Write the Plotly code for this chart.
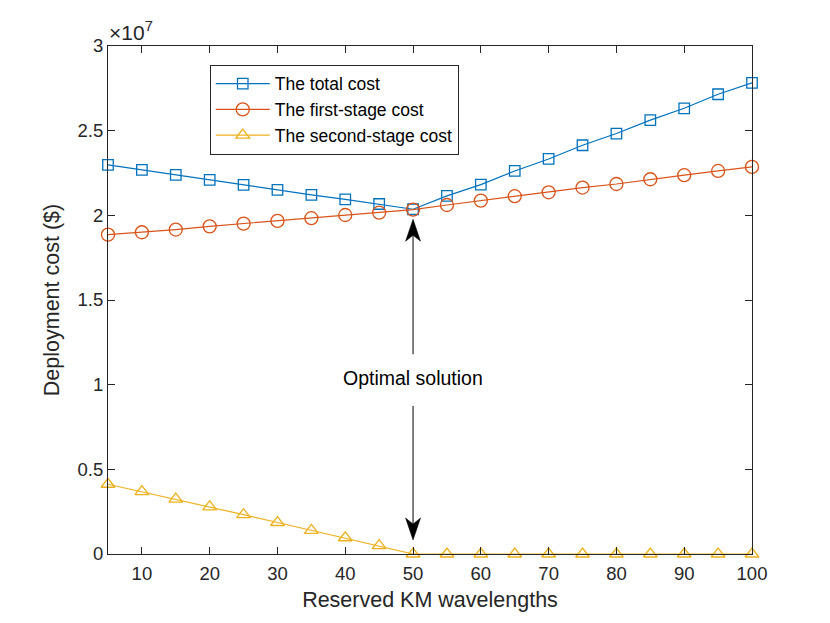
import numpy as np
import plotly.graph_objects as go

# --------------------------
# DATA (values in 1e7 $)
# --------------------------
wavelengths = [5, 10, 15, 20, 25, 30, 35, 40, 45, 50,
               55, 60, 65, 70, 75, 80, 85, 90, 95, 100]
total_cost = [2.298, 2.268, 2.239, 2.209, 2.180, 2.150, 2.121, 2.094, 2.067, 2.036,
              2.115, 2.181, 2.262, 2.333, 2.414, 2.483, 2.562, 2.632, 2.715, 2.782]
first_stage = [1.886, 1.900, 1.916, 1.935, 1.951, 1.967, 1.983, 2.002, 2.016, 2.034,
               2.061, 2.087, 2.113, 2.136, 2.164, 2.185, 2.213, 2.237, 2.262, 2.286]
second_stage = [0.412, 0.368, 0.324, 0.278, 0.232, 0.186, 0.140, 0.096, 0.050, 0.0,
                0.0, 0.0, 0.0, 0.0, 0.0, 0.0, 0.0, 0.0, 0.0, 0.0]

x_ticks = [10, 20, 30, 40, 50, 60, 70, 80, 90, 100]
y_ticks = [0, 0.5, 1, 1.5, 2, 2.5, 3]
y_tick_text = ["0", "0.5", "1", "1.5", "2", "2.5", "3"]

scale = 1e7
total = np.array(total_cost) * scale
first = np.array(first_stage) * scale
second = np.array(second_stage) * scale

FONT = "Liberation Sans, Arial, Helvetica, sans-serif"
AX = "#262626"

# --------------------------
# TRACES
# --------------------------
fig = go.Figure()
series = [
    ("The total cost", total, "#0072BD", "square-open", 10.5),
    ("The first-stage cost", first, "#D95319", "circle-open", 13),
    ("The second-stage cost", second, "#EDB120", "triangle-up-open", 12),
]
for name, vals, color, symbol, size in series:
    fig.add_trace(go.Scatter(
        x=wavelengths, y=vals, name=name, mode="lines+markers",
        line=dict(color=color, width=1.2),
        marker=dict(symbol=symbol, size=size, color=color, line=dict(color=color, width=1.3)),
        cliponaxis=False,
    ))

# --------------------------
# OPTIMAL SOLUTION ARROWS
# --------------------------
i_opt = int(np.argmin(total))
opt_x = wavelengths[i_opt]
opt_y = total[i_opt]
low_y = second[i_opt]

shapes = [
    # upper arrow: shaft + head (pixel offsets from the optimum point)
    dict(type="line", xref="x", yref="y", xsizemode="pixel", ysizemode="pixel",
         xanchor=opt_x, yanchor=opt_y, x0=0, x1=0, y0=-20, y1=-145,
         line=dict(color="black", width=1)),
    dict(type="path", xref="x", yref="y", xsizemode="pixel", ysizemode="pixel",
         xanchor=opt_x, yanchor=opt_y,
         path="M0,-10 L7.5,-32 L0,-26 L-7.5,-32 Z",
         fillcolor="black", line=dict(color="black", width=0.5)),
    # lower arrow
    dict(type="line", xref="x", yref="y", xsizemode="pixel", ysizemode="pixel",
         xanchor=opt_x, yanchor=low_y, x0=0, x1=0, y0=24, y1=148,
         line=dict(color="black", width=1)),
    dict(type="path", xref="x", yref="y", xsizemode="pixel", ysizemode="pixel",
         xanchor=opt_x, yanchor=low_y,
         path="M0,14 L7.5,36 L0,30 L-7.5,36 Z",
         fillcolor="black", line=dict(color="black", width=0.5)),
]

annotations = [
    dict(x=opt_x, y=1.04e7, xref="x", yref="y", text="Optimal solution",
         showarrow=False, font=dict(family=FONT, size=19.5, color="black")),
    dict(x=0, y=1, xref="paper", yref="paper", xanchor="left", yanchor="bottom",
         text="×10<sup>7</sup>", showarrow=False, yshift=0, xshift=-1,
         font=dict(family=FONT, size=21, color=AX)),
]

# --------------------------
# LAYOUT (margins compensate the 8px page margin of the html body)
# --------------------------
fig.update_layout(
    width=830, height=623,
    margin=dict(l=100, r=86, t=38, b=77),
    paper_bgcolor="white", plot_bgcolor="white",
    font=dict(family=FONT, size=18.5, color=AX),
    shapes=shapes, annotations=annotations,
    legend=dict(
        x=0.158, y=0.963, xanchor="left", yanchor="top",
        bgcolor="white", bordercolor=AX, borderwidth=1,
        font=dict(family=FONT, size=17.5, color="black"),
        tracegroupgap=0, itemwidth=54,
    ),
    showlegend=True,
)
fig.update_xaxes(
    range=[5, 100], tickvals=x_ticks, ticks="inside", ticklen=7, tickcolor=AX,
    showline=True, linecolor=AX, linewidth=1, mirror="ticks",
    showgrid=False, zeroline=False, ticklabelstandoff=3,
    title=dict(text="Reserved KM wavelengths", font=dict(size=21.5, color=AX), standoff=8),
)
fig.update_yaxes(
    range=[0, 3e7], tickvals=[v * scale for v in y_ticks], ticktext=y_tick_text,
    ticks="inside", ticklen=7, tickcolor=AX,
    showline=True, linecolor=AX, linewidth=1, mirror="ticks",
    showgrid=False, zeroline=False,
    title=dict(text="Deployment cost ($)", font=dict(size=21.5, color=AX), standoff=12),
)

fig.write_html("out.html")
